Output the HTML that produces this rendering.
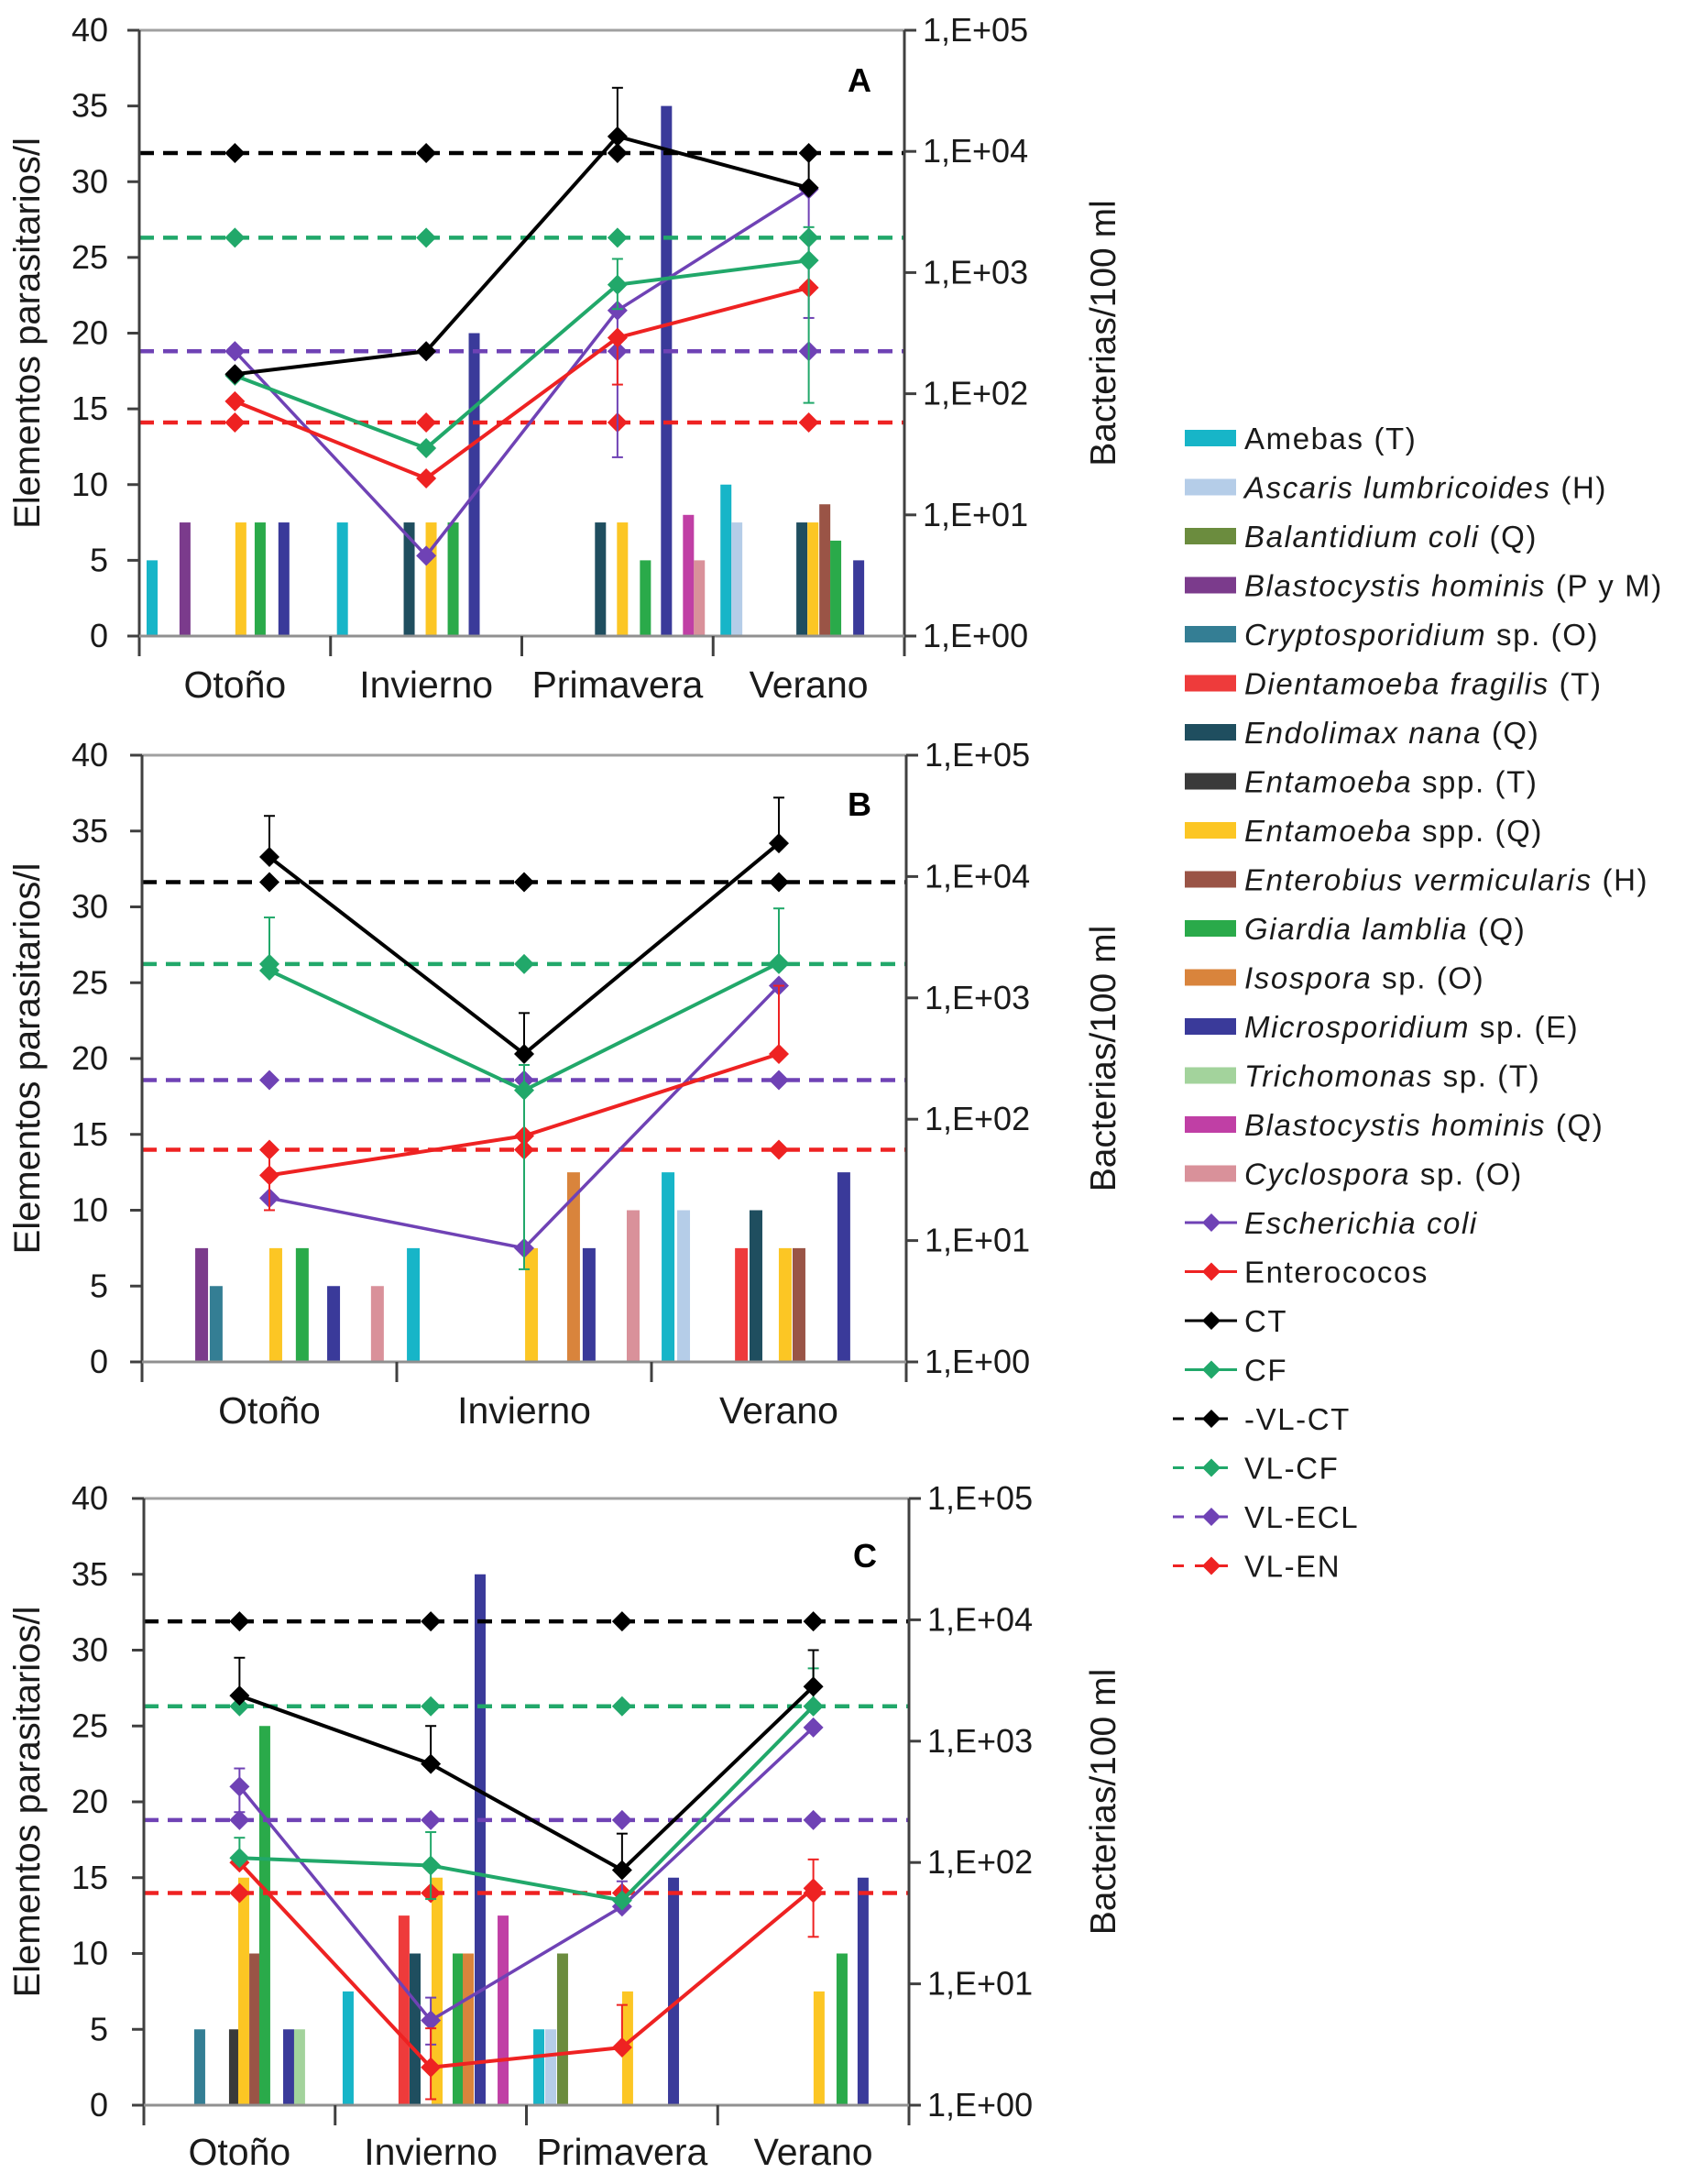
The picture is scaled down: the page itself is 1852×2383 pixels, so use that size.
<!DOCTYPE html>
<html><head><meta charset="utf-8">
<style>
html,body{margin:0;padding:0;background:#fff;}
svg{display:block;font-family:"Liberation Sans",Arial,sans-serif;}
</style></head>
<body>
<svg id="fig" width="1852" height="2383" viewBox="0 0 1852 2383" xmlns="http://www.w3.org/2000/svg"></svg>
<script>
// ---------- series definitions ----------
const seriesNames = ["Amebas","Ascaris lumbricoides","Balantidium coli","Blastocystis hominis PyM","Cryptosporidium sp.","Dientamoeba fragilis","Endolimax nana","Entamoeba spp. T","Entamoeba spp. Q","Enterobius vermicularis","Giardia lamblia","Isospora sp.","Microsporidium sp.","Trichomonas sp.","Blastocystis hominis Q","Cyclospora sp."];
const seriesColors = ["#17b5c8","#b5cde8","#6b8c3e","#7b3b8c","#347e94","#ee3b3b","#1f4e5f","#3a3a3a","#fcc624","#9a5446","#2aaa4a","#d9843c","#3a3a9a","#a3d39c","#c03fa5","#d9919a"];
const lineColors = {ec:"#6f42b5", en:"#ee2222", ct:"#000000", cf:"#21a86a"};
const leftTicks = [0,5,10,15,20,25,30,35,40];
const rightTicks = ["1,E+00","1,E+01","1,E+02","1,E+03","1,E+04","1,E+05"];

// ---------- Panel A ----------
const catsA = ["Otoño","Invierno","Primavera","Verano"];
const barSerA = [0,3,8,10,12, 0,6,8,10,12, 6,8,10,12,14,15,0,1, 6,8,9,10,12];
const barPosA = [0.067,0.239,0.531,0.632,0.756, 1.062,1.411,1.526,1.641,1.751, 2.411,2.526,2.646,2.756,2.871,2.928,3.067,3.124, 3.464,3.522,3.584,3.641,3.761];
const barValA = [5,7.5,7.5,7.5,7.5, 7.5,7.5,7.5,7.5,20, 7.5,7.5,5,35,8,5,10,7.5, 7.5,7.5,8.7,6.3,5];
const ctA = [145,224,13300,5010];
const cfA = [141,35.5,794,1259];
const ecA = [224,4.6,487,4870];
const enA = [86.6,20,290,750];
const ctErrA = [null,null,[13300,33500],[5010,9700]];
const cfErrA = [null,null,[500,1296],[84,2371]];
const ecErrA = [null,null,[29.9,487],[422,4870]];
const enErrA = [null,null,[119,290],null];
const vlA = [9700,1940,224,57.9];

// ---------- Panel B ----------
const catsB = ["Otoño","Invierno","Verano"];
const barSerB = [3,4,8,10,12,15,0, 8,11,12,15,0,1, 5,6,8,9,12];
const barPosB = [0.234,0.291,0.525,0.629,0.752,0.924,1.065, 1.529,1.694,1.755,1.928,2.065,2.126, 2.353,2.410,2.525,2.579,2.755];
const barValB = [7.5,5,7.5,7.5,5,5,7.5, 7.5,12.5,7.5,10,12.5,10, 7.5,10,7.5,7.5,12.5];
const ctB = [14500,345,18800];
const cfB = [1680,173,1940];
const ecB = [22.4,8.66,1259];
const enB = [34.5,72.9,345];
const ctErrB = [[14500,31600],[345,750],[18800,44700]];
const cfErrB = [[1680,4600],[5.8,280],[1940,5460]];
const ecErrB = [null,null,null];
const enErrB = [[17.8,56],null,[345,1259]];
const vlB = [9000,1900,210,56];

// ---------- Panel C ----------
const catsC = ["Otoño","Invierno","Primavera","Verano"];
const barSerC = [4,7,8,9,10,12,13, 0,5,6,8,10,11,12,14, 0,1,2,8,12, 8,10,12];
const barPosC = [0.292,0.474,0.522,0.580,0.632,0.757,0.814, 1.068,1.360,1.418,1.533,1.643,1.696,1.758,1.878, 2.065,2.127,2.189,2.529,2.769, 3.530,3.650,3.760];
const barValC = [5,5,15,10,25,5,5, 7.5,12.5,10,15,10,10,35,12.5, 5,5,10,7.5,15, 7.5,10,15];
const ctC = [2370,649,86.6,2818];
const cfC = [109,94.4,48.7,1940];
const ecC = [422,5.0,43.4,1296];
const enC = [100,2.05,2.99,61.3];
const ctErrC = [[2370,4870],[649,1334],[86.6,173],[2818,5623]];
const cfErrC = [[109,160],[50,178],null,[1940,3981]];
const ecErrC = [[260,596],[3.16,7.7],[43.4,70],null];
const enErrC = [null,[1.12,4.3],[2.99,6.7],[24.4,106]];
const vlC = [9700,1940,224,56];

const NS = "http://www.w3.org/2000/svg";
const svg = document.getElementById('fig');
function mk(tag, attrs, parent){
  const e = document.createElementNS(NS, tag);
  for (const k in attrs) e.setAttribute(k, attrs[k]);
  (parent||svg).appendChild(e);
  return e;
}
function diamond(g, x, y, r, color){
  return mk('path', {d:`M${x} ${y-r}L${x+r} ${y}L${x} ${y+r}L${x-r} ${y}Z`, fill:color}, g);
}

function drawPanel(p){
  const g = mk('g', {});
  
  
  const L=p.left, R=p.right, T=p.top, B=p.bottom, H=B-T, N=p.cats.length, U=(R-L)/N;
  const yL = v => B - v/40*H;
  const yR = b => B - Math.log10(b)/5*H;
  const xC = u => L + u*U;

  const top = mk('line', {x1:L, y1:T, x2:R, y2:T, stroke:'#a0a0a0', 'stroke-width':3}, g);
  
  

  p.barSer.forEach((s,i)=>{
    const v = p.barVal[i];
    const x = xC(p.barPos[i]);
    const r = mk('rect', {x:x-p.bw/2, y:yL(v), width:p.bw, height:B-yL(v), fill:seriesColors[s]}, g);
    
    
  });

  const vlCols = [lineColors.ct, lineColors.cf, lineColors.ec, lineColors.en];
  const vlNames = ['vl-ct','vl-cf','vl-ecl','vl-en'];
  p.vl.forEach((b,k)=>{
    const y = yR(b);
    const ln = mk('line', {x1:L, y1:y, x2:R, y2:y, stroke:vlCols[k], 'stroke-width':4.5, 'stroke-dasharray':'16 10'}, g);
    
    
    for (let c=0;c<N;c++){
      const dm = diamond(g, xC(c+0.5), y, 11, vlCols[k]);
      
      
    }
  });

  const lines = [
    {key:'ec', vals:p.ec, err:p.ecErr, w:3.5},
    {key:'en', vals:p.en, err:p.enErr, w:4},
    {key:'cf', vals:p.cf, err:p.cfErr, w:4},
    {key:'ct', vals:p.ct, err:p.ctErr, w:4},
  ];
  lines.forEach(s=>{
    const col = lineColors[s.key];
    s.err.forEach((e,i)=>{
      if(!e) return;
      const x = xC(i+0.5);
      const eg = mk('g', {stroke:col, 'stroke-width':2}, g);
      
      
      mk('line', {x1:x, y1:yR(e[0]), x2:x, y2:yR(e[1])}, eg);
      mk('line', {x1:x-6, y1:yR(e[0]), x2:x+6, y2:yR(e[0])}, eg);
      mk('line', {x1:x-6, y1:yR(e[1]), x2:x+6, y2:yR(e[1])}, eg);
    });
    const pts = s.vals.map((b,i)=>`${xC(i+0.5)},${yR(b)}`).join(' ');
    const pl = mk('polyline', {points:pts, fill:'none', stroke:col, 'stroke-width':s.w}, g);
    
    
    s.vals.forEach((b,i)=>{
      const dm = diamond(g, xC(i+0.5), yR(b), 11, col);
      
      
    });
  });

  const ax = mk('g', {stroke:'#404040', 'stroke-width':3}, g);
  
  
  mk('line', {x1:L, y1:T, x2:L, y2:B+22}, ax);
  mk('line', {x1:R, y1:T, x2:R, y2:B+22}, ax);
  mk('line', {x1:L, y1:B, x2:R, y2:B, stroke:'#909090'}, ax);
  for (let c=1;c<N;c++) mk('line', {x1:xC(c), y1:B, x2:xC(c), y2:B+22}, ax);
  leftTicks.forEach(v=>{
    mk('line', {x1:L-13, y1:yL(v), x2:L, y2:yL(v)}, ax);
    const t = mk('text', {x:118, y:yL(v)+12, 'text-anchor':'end', 'font-size':36, fill:'#1a1a1a'}, g);
    t.textContent = v;
    
    
  });
  rightTicks.forEach((lab,k)=>{
    const y = B - k/5*H;
    mk('line', {x1:R, y1:y, x2:R+13, y2:y}, ax);
    const t = mk('text', {x:R+20, y:y+12, 'font-size':36, fill:'#1a1a1a'}, g);
    t.textContent = lab;
    
    
  });
  p.cats.forEach((c,i)=>{
    const t = mk('text', {x:xC(i+0.5), y:p.catY, 'text-anchor':'middle', 'font-size':41, fill:'#1a1a1a'}, g);
    t.textContent = c;
    
    
  });
  const mid = (T+B)/2;
  const yl = mk('text', {x:0, y:0, transform:`translate(43 ${mid}) rotate(-90)`, 'text-anchor':'middle', 'font-size':40, fill:'#1a1a1a'}, g);
  yl.textContent = 'Elementos parasitarios/l';
  
  
  const yr = mk('text', {x:0, y:0, transform:`translate(1217 ${mid}) rotate(-90)`, 'text-anchor':'middle', 'font-size':39, fill:'#1a1a1a'}, g);
  yr.textContent = 'Bacterias/100 ml';
  
  
  const pl = mk('text', {x:p.labX, y:p.labY, 'text-anchor':'middle', 'font-size':36, 'font-weight':'bold', fill:'#000'}, g);
  pl.textContent = p.id;
  
  
}

drawPanel({id:'A', cats:catsA, left:152, right:987, top:33, bottom:694, bw:12, catY:761,
  barSer:barSerA, barPos:barPosA, barVal:barValA, ct:ctA, cf:cfA, ec:ecA, en:enA,
  ctErr:ctErrA, cfErr:cfErrA, ecErr:ecErrA, enErr:enErrA, vl:vlA, labX:938, labY:100});
drawPanel({id:'B', cats:catsB, left:155, right:989, top:824, bottom:1486, bw:14, catY:1553,
  barSer:barSerB, barPos:barPosB, barVal:barValB, ct:ctB, cf:cfB, ec:ecB, en:enB,
  ctErr:ctErrB, cfErr:cfErrB, ecErr:ecErrB, enErr:enErrB, vl:vlB, labX:938, labY:890});
drawPanel({id:'C', cats:catsC, left:157, right:992, top:1635, bottom:2297, bw:12, catY:2362,
  barSer:barSerC, barPos:barPosC, barVal:barValC, ct:ctC, cf:cfC, ec:ecC, en:enC,
  ctErr:ctErrC, cfErr:cfErrC, ecErr:ecErrC, enErr:enErrC, vl:vlC, labX:944, labY:1710});

// ---------- Legend ----------
const legendItems = [
  [["Amebas",0],["  (T)",0]],
  [["Ascaris lumbricoides",1],[" (H)",0]],
  [["Balantidium coli",1],[" (Q)",0]],
  [["Blastocystis hominis",1],[" (P y M)",0]],
  [["Cryptosporidium",1],[" sp. (O)",0]],
  [["Dientamoeba fragilis",1],[" (T)",0]],
  [["Endolimax nana",1],[" (Q)",0]],
  [["Entamoeba",1],[" spp. (T)",0]],
  [["Entamoeba",1],[" spp. (Q)",0]],
  [["Enterobius vermicularis",1],[" (H)",0]],
  [["Giardia lamblia",1],[" (Q)",0]],
  [["Isospora",1],[" sp. (O)",0]],
  [["Microsporidium",1],[" sp. (E)",0]],
  [["Trichomonas",1],[" sp. (T)",0]],
  [["Blastocystis hominis",1],[" (Q)",0]],
  [["Cyclospora",1],[" sp. (O)",0]],
  [["Escherichia coli",1]],
  [["Enterococos",0]],
  [["CT",0]],
  [["CF",0]],
  [["-VL-CT",0]],
  [["VL-CF",0]],
  [["VL-ECL",0]],
  [["VL-EN",0]]
];
const lg = mk('g', {});


const lineKeys = ['ec','en','ct','cf','ct','cf','ec','en'];
legendItems.forEach((parts,i)=>{
  const y = 478 + i*53.5;
  const eg = mk('g', {}, lg);
  
  
  if (i < 16){
    mk('rect', {x:1293, y:y-9, width:56, height:18, fill:seriesColors[i]}, eg);
  } else {
    const col = lineColors[lineKeys[i-16]];
    if (i < 20){
      mk('line', {x1:1293, y1:y, x2:1350, y2:y, stroke:col, 'stroke-width':3}, eg);
    } else {
      mk('line', {x1:1280, y1:y, x2:1350, y2:y, stroke:col, 'stroke-width':3, 'stroke-dasharray':'12 12'}, eg);
    }
    diamond(eg, 1322, y, 10, col);
  }
  const t = mk('text', {x:1358, y:y+12, 'font-size':33, 'letter-spacing':'1.6', fill:'#1a1a1a'}, eg);
  parts.forEach(pp=>{
    const ts = mk('tspan', {'font-style': pp[1] ? 'italic' : 'normal'}, t);
    ts.textContent = pp[0];
  });
});
</script>
</body></html>
